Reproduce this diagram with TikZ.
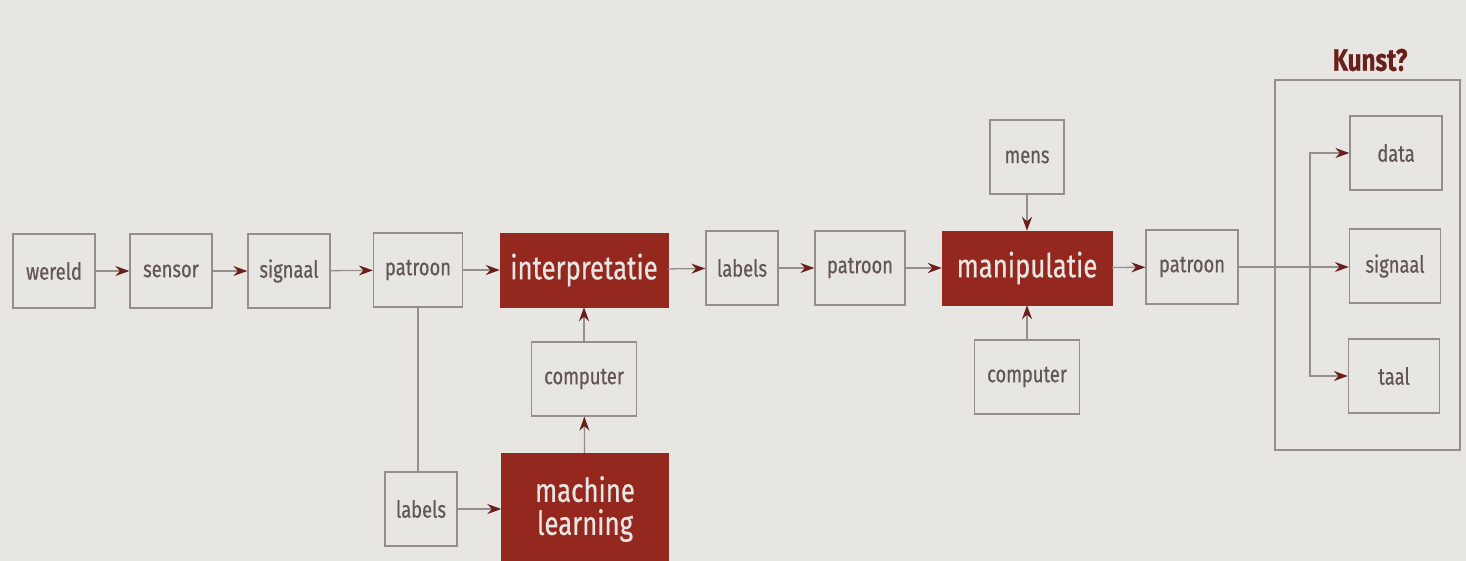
\documentclass[tikz,border=0pt]{standalone}
\usepackage{fontspec}
\setmainfont[FakeStretch=0.78,FakeBold=0.5]{Fira Sans}
\usepackage{xcolor}
\usepackage{tikz}
\usetikzlibrary{arrows.meta,positioning}
\definecolor{paper}{RGB}{232,230,226}
\definecolor{rust}{RGB}{148,40,30}
\definecolor{edgegray}{RGB}{150,142,140}
\definecolor{txtgray}{RGB}{98,86,86}
\definecolor{tipred}{RGB}{105,32,28}

\begin{document}
\begin{tikzpicture}[x=1pt,y=-1pt,
      bx/.style={draw=edgegray,line width=1.3pt,minimum width=#1,minimum height=74pt,inner sep=0pt,
        text=txtgray,font=\fontsize{23.5}{26}\selectfont},
      bx/.default=82pt,
      hot/.style={fill=rust,draw=rust,minimum height=74pt,inner sep=0pt,
        text=paper,align=center,font=\fontsize{33}{36}\selectfont},
      flow/.style={draw=edgegray,line width=1.3pt,-{Stealth[length=14pt,width=10pt,color=tipred]}},
      wire/.style={draw=edgegray,line width=1.3pt}]
    \fill[paper] (0,0) rectangle (1466,561);
    \useasboundingbox (0,0) rectangle (1466,561);
    % top row
    \node[bx]       (wereld)  at (54,271)  {wereld};
    \node[bx]       (sensor)  at (171,271) {sensor};
    \node[bx]       (signaal) at (289,271) {signaal};
    \node[bx=89pt]  (pat1)    at (418,270) {patroon};
    \node[hot,minimum width=168pt] (interp) at (584,270) {interpretatie};
    \node[bx=72pt]  (lab1)    at (742,268) {labels};
    \node[bx=90pt]  (pat2)    at (860,268) {patroon};
    \node[hot,minimum width=170pt] (manip) at (1027,268) {manipulatie};
    \node[bx=92pt]  (pat3)    at (1192,267) {patroon};
    % learning branch
    \node[bx=105pt] (comp1)   at (584,379) {computer};
    \node[bx=72pt]  (lab2)    at (421,509) {labels};
    \node[hot,minimum width=167pt,minimum height=112pt] (ml) at (585,509) {machine\\[-3pt]learning};
    % human / computer
    \node[bx=74pt]  (mens)    at (1027,157) {mens};
    \node[bx=105pt] (comp2)   at (1027,377) {computer};
    % Kunst?
    \node[draw=edgegray,line width=1.3pt,minimum width=185pt,minimum height=370pt] (kunst) at (1367.5,265) {};
    \node[font=\fontsize{31}{34}\selectfont\bfseries,text=tipred] (kunstlbl) at (1370,60) {Kunst?};
    \node[bx=92pt]  (data)    at (1396,153) {data};
    \node[bx=91pt]  (signaal2) at (1395,266) {signaal};
    \node[bx=91pt]  (taal)    at (1394,376) {taal};
    \coordinate (split) at (1310,267);
    % connectors
    \draw[flow] (wereld) -- (sensor);
    \draw[flow] (sensor) -- (signaal);
    \draw[flow] (signaal) -- (pat1);
    \draw[flow] (pat1) -- (interp);
    \draw[flow] (interp) -- (lab1);
    \draw[flow] (lab1) -- (pat2);
    \draw[flow] (pat2) -- (manip);
    \draw[flow] (manip) -- (pat3);
    \draw[wire] (pat1.south) -- (lab2.north -| pat1.south);
    \draw[flow] (lab2) -- (ml);
    \draw[flow] (ml) -- (comp1);
    \draw[flow] (comp1) -- (interp);
    \draw[flow] (mens) -- (manip);
    \draw[flow] (comp2) -- (manip);
    \draw[flow] (pat3) -- (signaal2.west |- pat3.east);
    \draw[flow] (split) |- (data.west);
    \draw[flow] (split) |- (taal.west);
  \end{tikzpicture}
\end{document}
